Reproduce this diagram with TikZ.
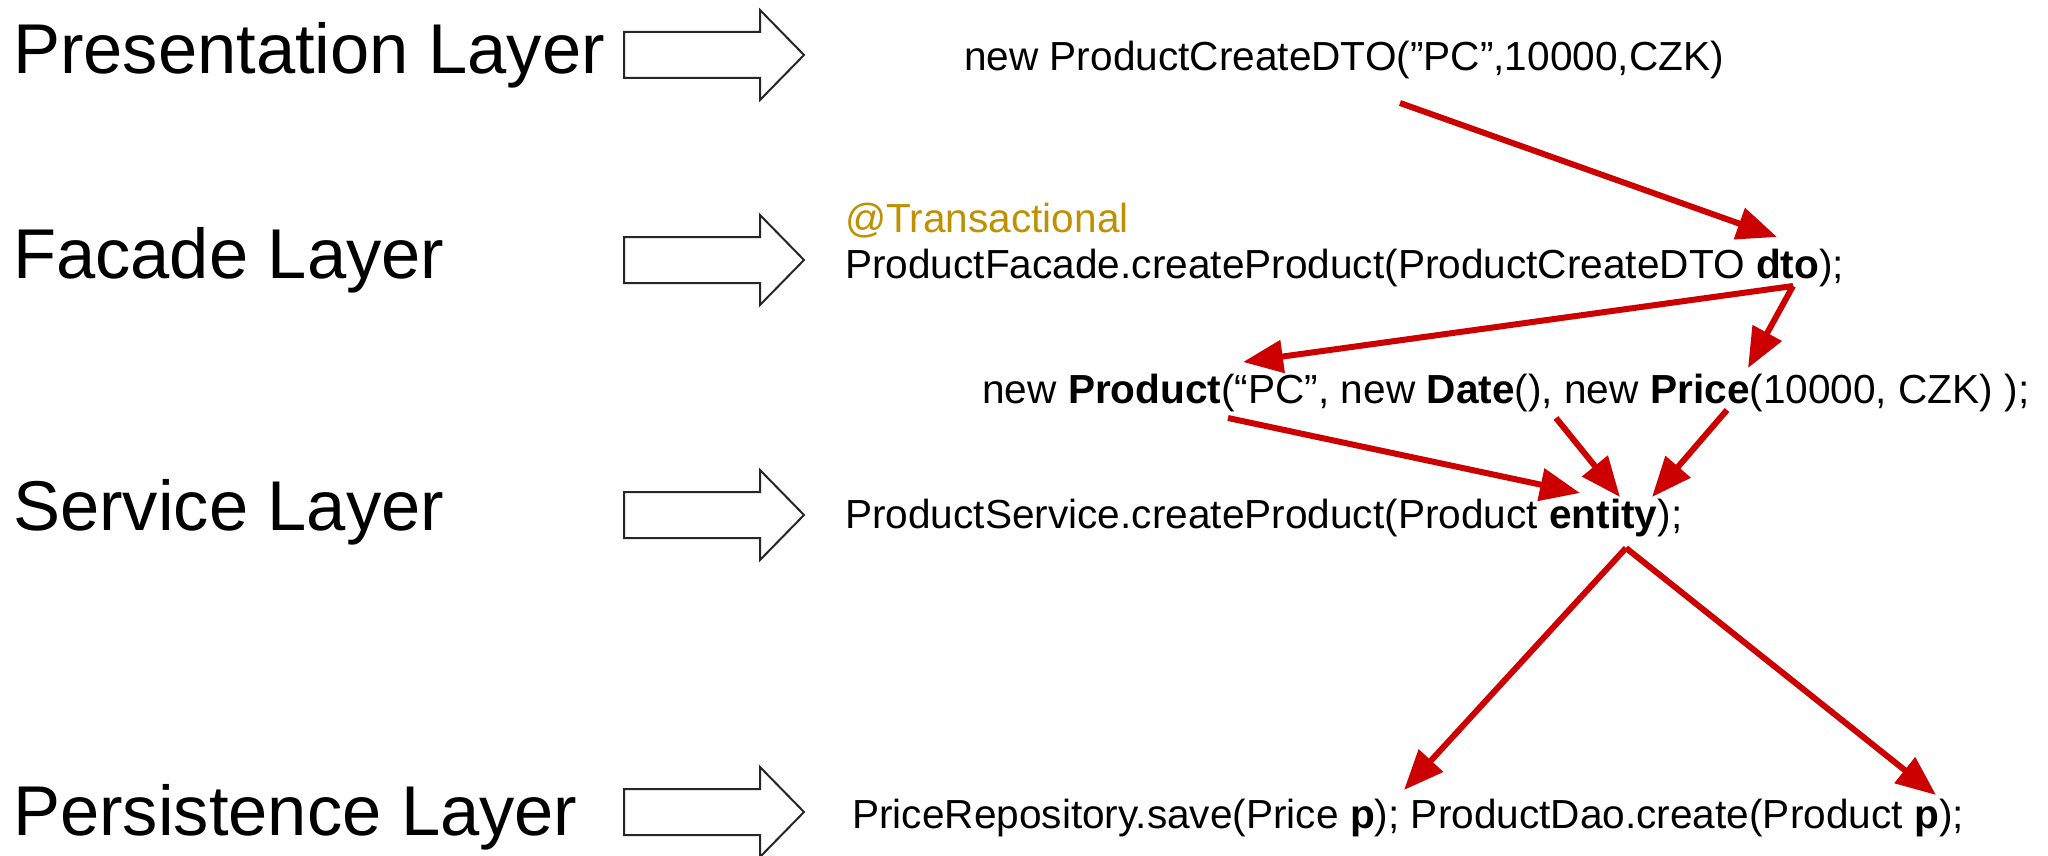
\documentclass[tikz,border=0pt]{standalone}
\usepackage{fontspec}
\setmainfont{Liberation Sans}
\usetikzlibrary{arrows.meta}
\definecolor{redarrow}{HTML}{CC0000}
\definecolor{goldtxt}{HTML}{BF9000}
\begin{document}
\begin{tikzpicture}[x=1pt,y=-1pt,
  layer/.style={anchor=base west,inner sep=0,font=\fontsize{70.5}{80}\selectfont},
  code/.style={anchor=base west,inner sep=0,font=\fontsize{40.6}{48}\selectfont},
  flow/.style={draw=redarrow,line width=6,-{Triangle[length=40,width=32]}},
  blockarrow/.style={draw=black!85,line width=2,fill=white,line join=miter},
  blk/.pic={\draw[blockarrow] (624,-23) -- (760,-23) -- (760,-45) -- (804,0) -- (760,45) -- (760,23) -- (624,23) -- cycle;}]
\useasboundingbox (0,0) rectangle (2048,856);
% layer labels
\node[layer] (pres) at (13,74) {Presentation Layer};
\node[layer] (fac) at (13,278) {Facade Layer};
\node[layer] (serv) at (13,530) {Service Layer};
\node[layer] (pers) at (13,835) {Persistence Layer};
% block arrows
\pic at (0,55) {blk};
\pic at (0,260) {blk};
\pic at (0,515) {blk};
\pic at (0,812) {blk};
% code texts
\node[code] (dto) at (964,71) {new ProductCreateDTO(”PC”,10000,CZK)};
\node[code,text=goldtxt] (tx) at (845,232) {@Transactional};
\node[code] (facm) at (845,278) {ProductFacade.createProduct(ProductCreateDTO \textbf{dto});};
\node[code] (newp) at (982,403) {new \textbf{Product}(“PC”, new \textbf{Date}(), new \textbf{Price}(10000, CZK) );};
\node[code] (servm) at (845,528) {ProductService.createProduct(Product \textbf{entity});};
\node[code] (persm) at (852,828) {PriceRepository.save(Price \textbf{p}); ProductDao.create(Product \textbf{p});};
% arrow endpoints
\coordinate (a1s) at (1400,103);
\coordinate (a1e) at (1777,237);
\coordinate (dtos) at (1793,286);
\coordinate (a2e) at (1243,362);
\coordinate (a3e) at (1748,368);
\coordinate (a4s) at (1228,418);
\coordinate (a4e) at (1580,493);
\coordinate (a5s) at (1556,418);
\coordinate (a5e) at (1620,497);
\coordinate (a6s) at (1727,410);
\coordinate (a6e) at (1652,497);
\coordinate (ents) at (1626,548);
\coordinate (a7e) at (1404,790);
\coordinate (a8e) at (1936,795);
\draw[flow] (a1s) -- (a1e);
\draw[flow] (dtos) -- (a2e);
\draw[flow] (dtos) -- (a3e);
\draw[flow] (a4s) -- (a4e);
\draw[flow] (a5s) -- (a5e);
\draw[flow] (a6s) -- (a6e);
\draw[flow] (ents) -- (a7e);
\draw[flow] (ents) -- (a8e);
\end{tikzpicture}
\end{document}
